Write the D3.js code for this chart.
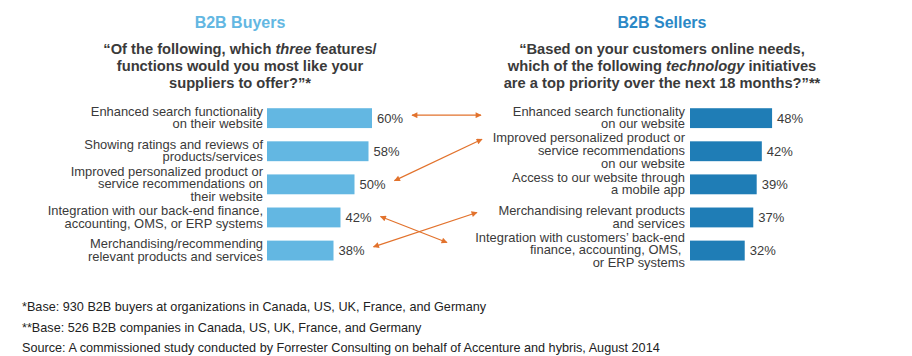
<!DOCTYPE html>
<html><head><meta charset="utf-8">
<script src="https://cdn.jsdelivr.net/npm/d3@7"></script>
<style>
html,body{margin:0;padding:0;background:#fff;}
svg{display:block;font-family:"Liberation Sans",Arial,sans-serif;}
</style></head>
<body>
<svg id="c" width="912" height="356"></svg>
<script>
// ---- data ----
const buyerTitle = "B2B Buyers";
const sellerTitle = "B2B Sellers";
const buyerQuestion = [
  [["“Of the following, which ", false], ["three", true], [" features/", false]],
  [["functions would you most like your", false]],
  [["suppliers to offer?”*", false]]
];
const sellerQuestion = [
  [["“Based on your customers online needs,", false]],
  [["which of the following ", false], ["technology", true], [" initiatives", false]],
  [["are a top priority over the next 18 months?”**", false]]
];
const buyerCategories = [
  ["Enhanced search functionality", "on their website"],
  ["Showing ratings and reviews of", "products/services"],
  ["Improved personalized product or", "service recommendations on", "their website"],
  ["Integration with our back-end finance,", "accounting, OMS, or ERP systems"],
  ["Merchandising/recommending", "relevant products and services"]
];
const buyerValues = [60, 58, 50, 42, 38];
const sellerCategories = [
  ["Enhanced search functionality", "on our website"],
  ["Improved personalized product or", "service recommendations", "on our website"],
  ["Access to our website through", "a mobile app"],
  ["Merchandising relevant products", "and services"],
  ["Integration with customers’ back-end", "finance, accounting, OMS, ", "or ERP systems"]
];
const sellerValues = [48, 42, 39, 37, 32];
// links: [buyer index, seller index]
const links = [[0, 0], [2, 1], [4, 3], [3, 4]];
const footnotes = [
  "*Base: 930 B2B buyers at organizations in Canada, US, UK, France, and Germany",
  "**Base: 526 B2B companies in Canada, US, UK, France, and Germany",
  "Source: A commissioned study conducted by Forrester Consulting on behalf of Accenture and hybris, August 2014"
];

// ---- style ----
const buyerColor = "#63b7e2";
const sellerColor = "#1f7db6";
const sellerTitleColor = "#2b88c6";
const textColor = "#3a3a3a";
const arrowColor = "#e2722c";

const svg = d3.select("#c");
const defs = svg.append("defs");
["s","e"].forEach(k=>{
  defs.append("marker").attr("id","ah"+k)
    .attr("viewBox","0 0 10 10").attr("refX",9).attr("refY",5)
    .attr("markerWidth",8).attr("markerHeight",6).attr("markerUnits","userSpaceOnUse")
    .attr("orient", k==="s" ? "auto-start-reverse" : "auto")
    .append("path").attr("d","M0,0L10,5L0,10Z").attr("fill",arrowColor);
});

const y = d3.scaleBand().domain(d3.range(5)).range([101.6, 267.1]).paddingInner(0.4).paddingOuter(0.2);
const xL = d3.scaleLinear().domain([0, 100]).range([267, 442]);
const xR = d3.scaleLinear().domain([0, 100]).range([690, 861]);

function titleBlock(cx, title, color, q){
  svg.append("text").attr("x",cx).attr("y",28).attr("text-anchor","middle")
    .attr("font-size",16).attr("font-weight","bold").attr("fill",color).text(title);
  q.forEach((line,i)=>{
    const t = svg.append("text").attr("x",cx).attr("y",53.5+i*17.4).attr("text-anchor","middle")
      .attr("font-size",14.7).attr("font-weight","bold").attr("fill",textColor);
    line.forEach(([s,it])=>t.append("tspan").attr("font-style",it?"italic":"normal").text(s));
  });
}
titleBlock(240, buyerTitle, buyerColor, buyerQuestion);
titleBlock(662, sellerTitle, sellerTitleColor, sellerQuestion);

function panel(x, cats, vals, color, labelX){
  const g = svg.append("g");
  g.selectAll("rect").data(vals).join("rect")
    .attr("x", x(0)).attr("y",(d,i)=>y(i)).attr("height",y.bandwidth())
    .attr("width",d=>x(d)-x(0)).attr("fill",color);
  g.selectAll("text.v").data(vals).join("text").attr("class","v")
    .attr("x",d=>x(d)+5).attr("y",(d,i)=>y(i)+y.bandwidth()/2+4.6)
    .attr("font-size",13).attr("fill",textColor).text(d=>d+"%");
  cats.forEach((lines,i)=>{
    const cy = y(i)+y.bandwidth()/2;
    const lh = 12.6;
    lines.forEach((l,j)=>{
      g.append("text").attr("text-anchor","end").attr("font-size",12.6).attr("fill",textColor)
        .attr("xml:space","preserve")
        .attr("x",labelX).attr("y",cy + (j-(lines.length-1)/2)*lh + 3.8)
        .attr("textLength", null)
        .text(l)
        .each(function(){
          // slight horizontal stretch to match reference glyph widths
          const w = this.getComputedTextLength();
          d3.select(this).attr("textLength", w*1.025).attr("lengthAdjust","spacingAndGlyphs");
        });
    });
  });
}
panel(xL, buyerCategories, buyerValues, buyerColor, 263);
panel(xR, sellerCategories, sellerValues, sellerColor, 685);

// arrows (annotation): left end near buyer value label, right end near seller label
const rightEndX = [481, 482, null, 477, 447];
const rightEndDy = [-3, -12, 0, -5, -8];
const leftEndDy = [-3, -3.7, -3.7, -1, -3.7];
links.forEach(([b,s])=>{
  svg.append("line")
    .attr("x1", xL(buyerValues[b]) + 40)
    .attr("y1", y(b)+y.bandwidth()/2 + leftEndDy[b])
    .attr("x2", rightEndX[s])
    .attr("y2", y(s)+y.bandwidth()/2 + rightEndDy[s])
    .attr("stroke",arrowColor).attr("stroke-width",1.2)
    .attr("marker-start","url(#ahs)").attr("marker-end","url(#ahe)");
});

// footnotes: condensed to match the narrow face of the reference
const fg = svg.append("g");
const ft = footnotes.map((f,i)=>fg.append("text").attr("x",0).attr("y",311.5+i*20.3)
    .attr("font-size",13.5).attr("fill","#222").text(f));
const wLast = ft[2].node().getComputedTextLength();
const k = 638 / wLast;
fg.attr("transform", `translate(22,0) scale(${k},1)`);
</script>
</body></html>
